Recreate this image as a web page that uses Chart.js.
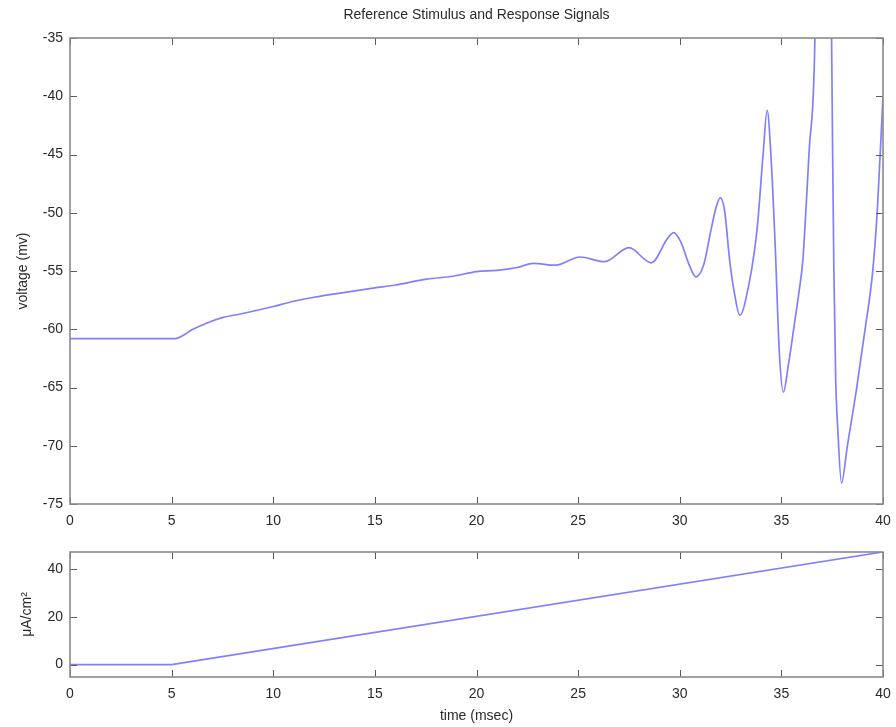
<!DOCTYPE html>
<html>
<head>
<meta charset="utf-8">
<script src="https://cdn.jsdelivr.net/npm/chart.js@4"></script>
<style>
  html, body { margin: 0; padding: 0; background: #fff; }
  #wrap { position: relative; width: 896px; height: 727px; overflow: hidden; }
  canvas { position: absolute; left: 0; }
  #c1 { top: 0; }
  #c2 { top: 535px; }
</style>
</head>
<body>
<div id="wrap">
  <canvas id="c1" width="896" height="535"></canvas>
  <canvas id="c2" width="896" height="192"></canvas>
</div>
<script>
// ---- data ----
const timeV = [0, 5.2, 5.6, 6.0, 6.9, 7.5, 8.5, 10.0, 11.0, 12.0, 13.45, 15.0, 16.0, 17.55, 18.85, 20.0, 21.0, 22.0, 22.8, 23.9, 25.1, 26.3, 27.5, 28.6, 29.4, 29.7, 30.05, 30.47, 30.8, 31.19, 31.5, 31.78, 32.0, 32.22, 32.45, 32.72, 32.96, 33.2, 33.8, 34.1, 34.3, 34.5, 34.7, 34.9, 35.1, 35.35, 35.62, 35.85, 36.06, 36.2, 36.37, 36.65, 37.05, 37.47, 37.52, 37.58, 37.67, 37.77, 37.96, 38.24, 38.7, 39.11, 39.49, 39.72, 40.0];
const voltage = [-60.8, -60.8, -60.5, -60.05, -59.35, -59.0, -58.65, -58.05, -57.6, -57.25, -56.85, -56.45, -56.2, -55.7, -55.45, -55.05, -54.95, -54.7, -54.35, -54.5, -53.8, -54.2, -53.0, -54.3, -52.2, -51.7, -52.5, -54.5, -55.5, -54.4, -51.8, -49.6, -48.7, -50.0, -54.0, -57.2, -58.8, -57.8, -51.5, -45.0, -41.2, -45.5, -53.0, -62.0, -65.4, -63.0, -59.8, -57.0, -54.0, -50.0, -44.6, -35.0, 25.0, -35.0, -44.6, -54.5, -64.1, -68.4, -73.2, -70.1, -65.1, -60.1, -55.1, -49.8, -40.0];
const timeI = [0, 5, 40];
const current = [0, 0, 47.3];
const xTicks = [0, 5, 10, 15, 20, 25, 30, 35, 40];
const vTicks = [-75, -70, -65, -60, -55, -50, -45, -40, -35];
const iTicks = [0, 20, 40];

const FONT = '"Liberation Sans", Arial, Helvetica, sans-serif';
const LINE = '#8080ff';
const TXT = '#2a2a2a';

const boxPlugin = {
  id: 'boxTicks',
  afterDatasetsDraw(chart) {
    const { ctx, chartArea: a, scales } = chart;
    const x = scales.x, y = scales.y;
    const L = 7;
    ctx.save();
    ctx.strokeStyle = '#5a5a5a';
    ctx.lineWidth = 1;
    ctx.beginPath();
    x.ticks.forEach(t => {
      const p = Math.round(x.getPixelForValue(t.value)) + 0.5;
      ctx.moveTo(p, a.bottom); ctx.lineTo(p, a.bottom - L);
      ctx.moveTo(p, a.top); ctx.lineTo(p, a.top + L);
    });
    y.ticks.forEach(t => {
      const p = Math.round(y.getPixelForValue(t.value)) + 0.5;
      ctx.moveTo(a.left, p); ctx.lineTo(a.left + L, p);
      ctx.moveTo(a.right, p); ctx.lineTo(a.right - L, p);
    });
    ctx.stroke();
    ctx.strokeStyle = '#8a8a8a';
    ctx.lineWidth = 1.6;
    ctx.strokeRect(a.left, a.top, a.right - a.left, a.bottom - a.top);
    ctx.restore();
  }
};

function tickSetter(arr) {
  return s => { s.ticks = arr.map(v => ({ value: v })); };
}

function xScale(height, withTitle) {
  return {
    type: 'linear', min: 0, max: 40,
    afterBuildTicks: tickSetter(xTicks),
    afterFit: s => { s.height = height; s.paddingLeft = 0; s.paddingRight = 0; },
    grid: { display: false, drawTicks: false },
    border: { display: false },
    ticks: { padding: 9, color: TXT, font: { family: FONT, size: 14 }, maxRotation: 0, autoSkip: false },
    title: withTitle ? { display: true, text: 'time (msec)', color: TXT, font: { family: FONT, size: 14 }, padding: { top: 0, bottom: 2.5 } } : { display: false }
  };
}

function yScale(min, max, ticksArr, title, titlePad) {
  return {
    type: 'linear', min: min, max: max,
    afterBuildTicks: tickSetter(ticksArr),
    afterFit: s => { s.width = 70; s.paddingTop = 0; s.paddingBottom = 0; },
    grid: { display: false, drawTicks: false },
    border: { display: false },
    ticks: { padding: 7, color: TXT, font: { family: FONT, size: 14 }, autoSkip: false },
    title: { display: true, text: title, color: TXT, font: { family: FONT, size: 14 }, padding: { top: titlePad, bottom: 0 } }
  };
}

new Chart(document.getElementById('c1'), {
  type: 'line',
  data: {
    datasets: [{
      data: timeV.map((t, i) => ({ x: t, y: voltage[i] })),
      borderColor: LINE, borderWidth: 1.7, pointRadius: 0,
      cubicInterpolationMode: 'monotone', fill: false
    }]
  },
  options: {
    responsive: false, animation: false, devicePixelRatio: 1,
    layout: { padding: { left: 0, right: 13, top: 0, bottom: 0 } },
    plugins: {
      legend: { display: false }, tooltip: { enabled: false },
      title: { display: true, fullSize: false, text: 'Reference Stimulus and Response Signals', color: TXT,
               font: { family: FONT, size: 14, weight: 'normal' }, padding: { top: 6.6, bottom: 14.6 } }
    },
    scales: {
      x: xScale(31, false),
      y: yScale(-75, -35, vTicks, 'voltage (mv)', 14.6)
    }
  },
  plugins: [boxPlugin]
});

new Chart(document.getElementById('c2'), {
  type: 'line',
  data: {
    datasets: [{
      data: timeI.map((t, i) => ({ x: t, y: current[i] })),
      borderColor: LINE, borderWidth: 1.7, pointRadius: 0, tension: 0, fill: false
    }]
  },
  options: {
    responsive: false, animation: false, devicePixelRatio: 1,
    layout: { padding: { left: 0, right: 13, top: 17, bottom: 0 } },
    plugins: { legend: { display: false }, tooltip: { enabled: false } },
    scales: {
      x: xScale(50, true),
      y: yScale(-5.2, 47.3, iTicks, 'μA/cm²', 19)
    }
  },
  plugins: [boxPlugin]
});
</script>
</body>
</html>
